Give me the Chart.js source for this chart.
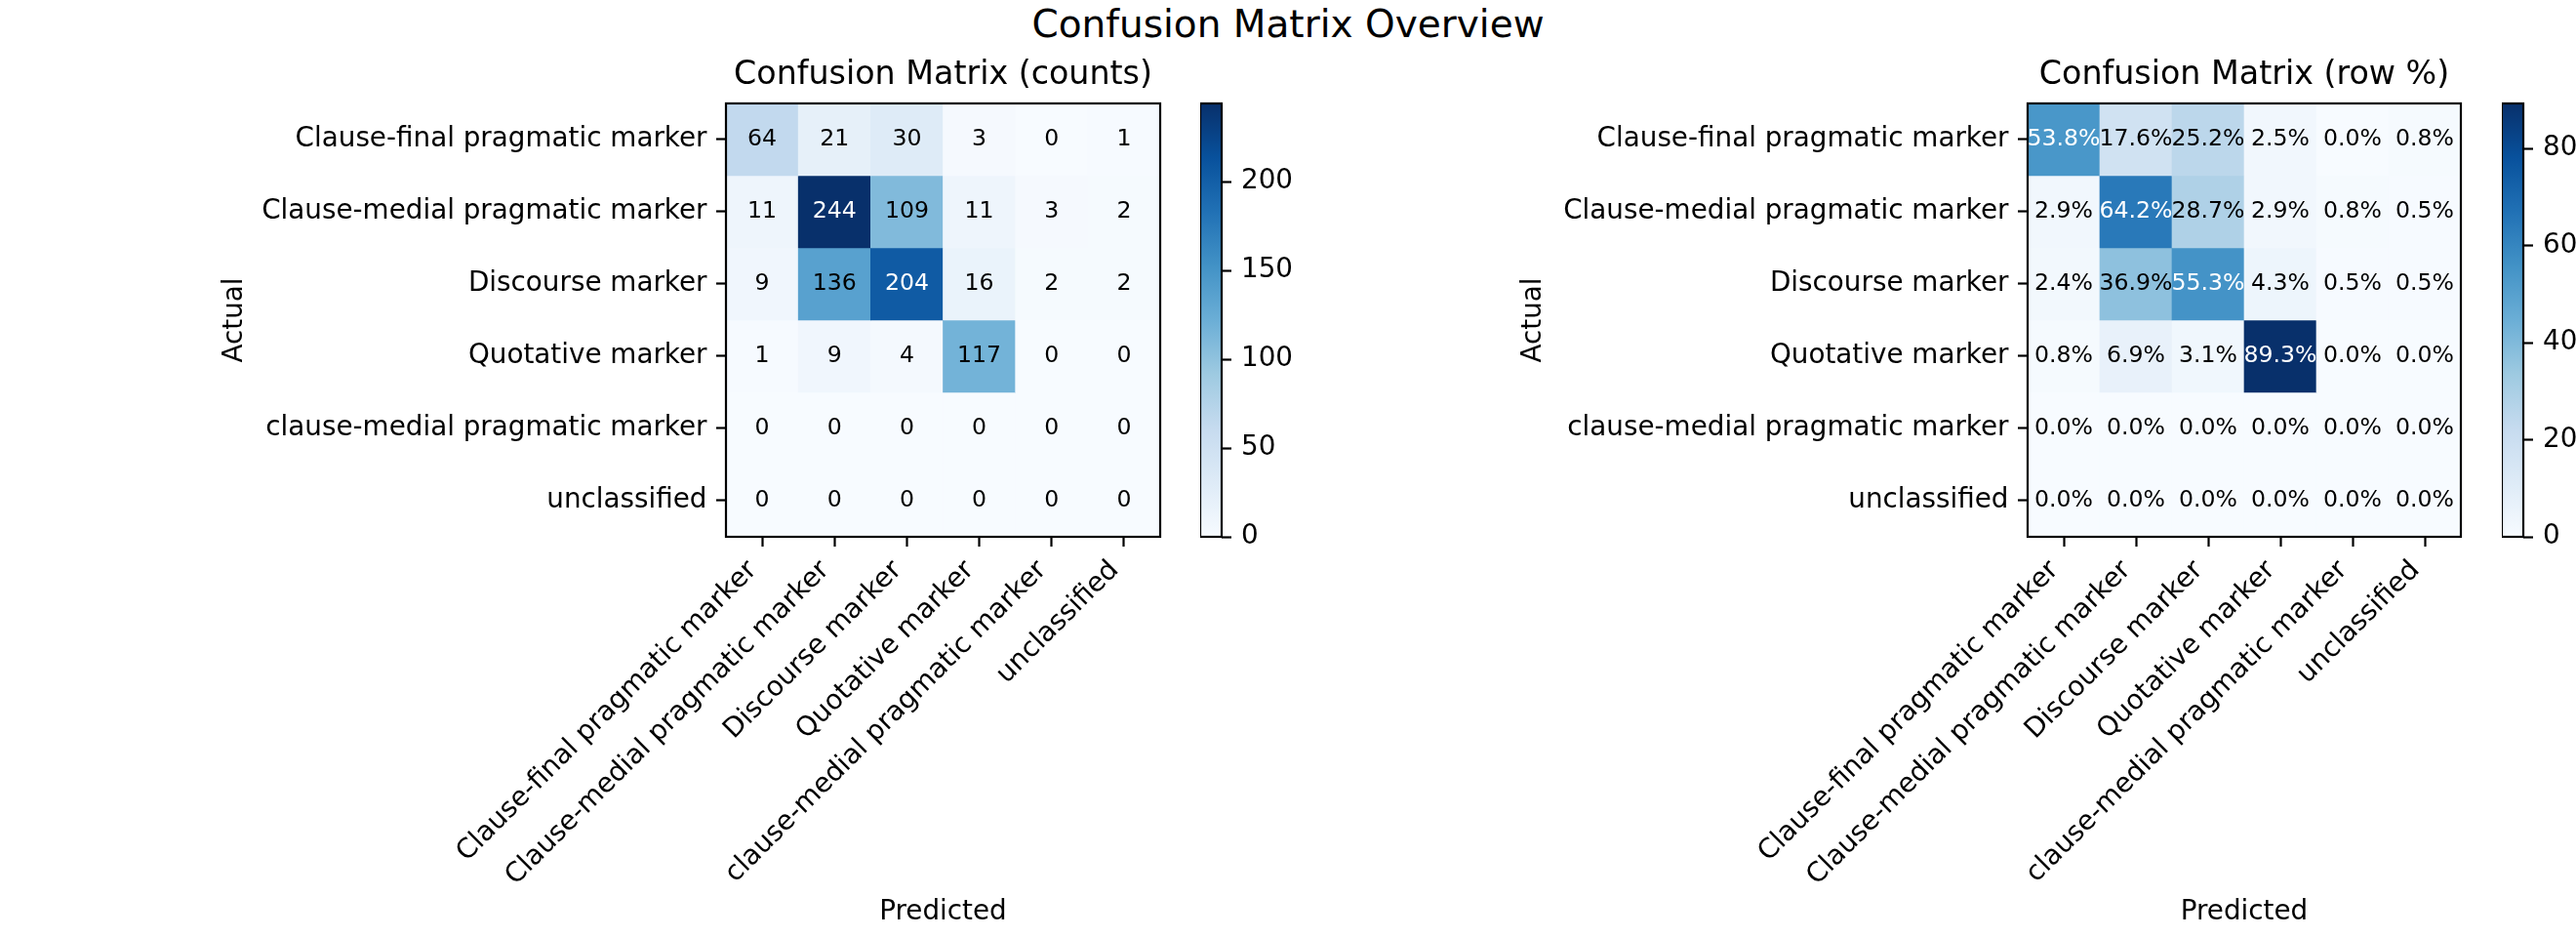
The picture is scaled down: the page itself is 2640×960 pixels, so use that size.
<!DOCTYPE html>
<html>
<head>
<meta charset="utf-8">
<title>Confusion Matrix Overview</title>
<script src="https://cdn.jsdelivr.net/npm/chart.js@4.4.1/dist/chart.umd.min.js"></script>
<style>
    html, body { margin: 0; padding: 0; background: #fff; overflow: hidden; }
    body { position: relative; width: 2640px; height: 960px; }
    .box { position: absolute; top: 0; height: 960px; }
    #suptitle {
        position: absolute; left: 0; top: 5px; width: 2640px;
        text-align: center; color: #000;
        font: 39px "DejaVu Sans", sans-serif; line-height: 39px;
    }
</style>
</head>
<body>
<div id="suptitle">Confusion Matrix Overview</div>
<div class="box" style="left:0;width:1215px"><canvas id="countsChart"></canvas></div>
<div class="box" style="left:1230px;width:110px"><canvas id="countsBar"></canvas></div>
<div class="box" style="left:1320px;width:1230px"><canvas id="pctChart"></canvas></div>
<div class="box" style="left:2564px;width:110px"><canvas id="pctBar"></canvas></div>
<script>
// class names (same order on both axes)
const classLabels = [
    'Clause-final pragmatic marker',
    'Clause-medial pragmatic marker',
    'Discourse marker',
    'Quotative marker',
    'clause-medial pragmatic marker',
    'unclassified'
];

// counts, one row per actual class
const countsClauseFinal  = [64, 21, 30, 3, 0, 1];
const countsClauseMedial = [11, 244, 109, 11, 3, 2];
const countsDiscourse    = [9, 136, 204, 16, 2, 2];
const countsQuotative    = [1, 9, 4, 117, 0, 0];
const countsLowerMedial  = [0, 0, 0, 0, 0, 0];
const countsUnclassified = [0, 0, 0, 0, 0, 0];

// row percentages
const pctClauseFinal  = [53.8, 17.6, 25.2, 2.5, 0.0, 0.8];
const pctClauseMedial = [2.9, 64.2, 28.7, 2.9, 0.8, 0.5];
const pctDiscourse    = [2.4, 36.9, 55.3, 4.3, 0.5, 0.5];
const pctQuotative    = [0.8, 6.9, 3.1, 89.3, 0.0, 0.0];
const pctLowerMedial  = [0.0, 0.0, 0.0, 0.0, 0.0, 0.0];
const pctUnclassified = [0.0, 0.0, 0.0, 0.0, 0.0, 0.0];

// colorbar ticks
const countTicks = [0, 50, 100, 150, 200];
const pctTicks = [0, 20, 40, 60, 80];

const countRows = [countsClauseFinal, countsClauseMedial, countsDiscourse, countsQuotative, countsLowerMedial, countsUnclassified];
const pctRows = [pctClauseFinal, pctClauseMedial, pctDiscourse, pctQuotative, pctLowerMedial, pctUnclassified];

// matplotlib "Blues"
const bluesStops = ['#f7fbff', '#deebf7', '#c6dbef', '#9ecae1', '#6baed6', '#4292c6', '#2171b5', '#08519c', '#08306b'];

Chart.defaults.font.family = '"DejaVu Sans", sans-serif';
Chart.defaults.color = '#000';

const FONT = 27.8;

function hexToRgb(h) {
    return [1, 3, 5].map(k => parseInt(h.substr(k, 2), 16));
}

function blues(t) {
    t = Math.min(Math.max(t, 0), 1) * (bluesStops.length - 1);
    const i = Math.min(Math.floor(t), bluesStops.length - 2);
    const f = t - i;
    const a = hexToRgb(bluesStops[i]);
    const b = hexToRgb(bluesStops[i + 1]);
    const c = a.map((v, k) => Math.round(v + (b[k] - v) * f));
    return `rgb(${c[0]}, ${c[1]}, ${c[2]})`;
}

// black box round the plot area
const framePlugin = {
    id: 'frame',
    afterDatasetsDraw(chart) {
        const { ctx, chartArea: a } = chart;
        ctx.save();
        ctx.strokeStyle = '#000';
        ctx.lineWidth = 2.2;
        ctx.strokeRect(a.left, a.top, a.right - a.left, a.bottom - a.top);
        ctx.restore();
    }
};

// numbers written in each cell
const cellTextPlugin = {
    id: 'cellText',
    afterDatasetsDraw(chart, args, opts) {
        const ctx = chart.ctx;
        ctx.save();
        ctx.font = '23.6px "DejaVu Sans", sans-serif';
        ctx.textAlign = 'center';
        ctx.textBaseline = 'middle';
        chart.data.datasets.forEach((ds, i) => {
            chart.getDatasetMeta(i).data.forEach((bar, j) => {
                const v = ds.data[j].v;
                const p = bar.getCenterPoint();
                ctx.fillStyle = v > opts.vmax * 0.6 ? '#fff' : '#000';
                ctx.fillText(v.toFixed(opts.decimals) + opts.suffix, p.x, p.y);
            });
        });
        ctx.restore();
    }
};

const tickGrid = { drawOnChartArea: false, tickLength: 10, tickWidth: 2.2, tickColor: '#000' };

function createHeatmap(canvasId, rows, title, decimals, suffix, yWidth, padRight, yTitlePad) {
    const vmax = Math.max(...rows.flat());
    const datasets = rows.map((row, i) => ({
        label: classLabels[i],
        data: row.map((v, j) => ({ x: classLabels[j], y: [i, i + 1], v: v })),
        backgroundColor: ctx => blues(ctx.raw.v / vmax),
        borderWidth: 0,
        grouped: false,
        categoryPercentage: 1,
        barPercentage: 1
    }));

    return new Chart(document.getElementById(canvasId), {
        type: 'bar',
        data: { labels: classLabels, datasets: datasets },
        options: {
            responsive: true,
            maintainAspectRatio: false,
            animation: false,
            layout: { padding: { left: 0, right: padRight, top: 0, bottom: 0 } },
            plugins: {
                legend: { display: false },
                tooltip: { enabled: false },
                title: {
                    display: true,
                    fullSize: false,
                    text: title,
                    font: { size: 33.3, weight: 'normal' },
                    padding: { top: 57, bottom: 9 }
                },
                cellText: { vmax: vmax, decimals: decimals, suffix: suffix }
            },
            scales: {
                x: {
                    type: 'category',
                    offset: true,
                    grid: Object.assign({ offset: false }, tickGrid),
                    border: { display: false },
                    ticks: {
                        autoSkip: false,
                        minRotation: 45,
                        maxRotation: 45,
                        labelOffset: -9.5,
                        padding: 8,
                        font: { size: FONT }
                    },
                    title: { display: true, text: 'Predicted', font: { size: FONT }, padding: { top: 0, bottom: 9 } },
                    afterFit: s => { s.height = 410; }
                },
                y: {
                    type: 'linear',
                    min: 0,
                    max: rows.length,
                    reverse: true,
                    afterBuildTicks: s => { s.ticks = classLabels.map((l, i) => ({ value: i + 0.5 })); },
                    grid: tickGrid,
                    border: { display: false },
                    ticks: {
                        padding: 9.5,
                        font: { size: FONT },
                        callback: (value, index) => classLabels[index]
                    },
                    title: { display: true, text: 'Actual', font: { size: FONT }, padding: { top: yTitlePad } },
                    afterFit: s => { s.width = yWidth; }
                }
            }
        },
        plugins: [cellTextPlugin, framePlugin]
    });
}

function createColorbar(canvasId, rows, tickValues) {
    const vmax = Math.max(...rows.flat());
    return new Chart(document.getElementById(canvasId), {
        type: 'bar',
        data: {
            labels: [''],
            datasets: [{
                data: [[0, vmax]],
                backgroundColor: ctx => {
                    const area = ctx.chart.chartArea;
                    if (!area) return bluesStops[0];
                    const g = ctx.chart.ctx.createLinearGradient(0, area.bottom, 0, area.top);
                    bluesStops.forEach((c, k) => g.addColorStop(k / (bluesStops.length - 1), c));
                    return g;
                },
                borderWidth: 0,
                categoryPercentage: 1,
                barPercentage: 1
            }]
        },
        options: {
            responsive: true,
            maintainAspectRatio: false,
            animation: false,
            layout: { padding: { left: 0, right: 0, top: 106, bottom: 410 } },
            plugins: { legend: { display: false }, tooltip: { enabled: false } },
            scales: {
                x: { display: false },
                y: {
                    position: 'right',
                    min: 0,
                    max: vmax,
                    afterBuildTicks: s => { s.ticks = tickValues.map(v => ({ value: v })); },
                    grid: tickGrid,
                    border: { display: false },
                    ticks: { padding: 10, font: { size: FONT } },
                    afterFit: s => { s.width = 88; }
                }
            }
        },
        plugins: [framePlugin]
    });
}

document.addEventListener('DOMContentLoaded', function() {
    createHeatmap('countsChart', countRows, 'Confusion Matrix (counts)', 0, '', 744, 26, 224);
    createColorbar('countsBar', countRows, countTicks);
    createHeatmap('pctChart', pctRows, 'Confusion Matrix (row %)', 1, '%', 758, 28, 235);
    createColorbar('pctBar', pctRows, pctTicks);
});
</script>
</body>
</html>
